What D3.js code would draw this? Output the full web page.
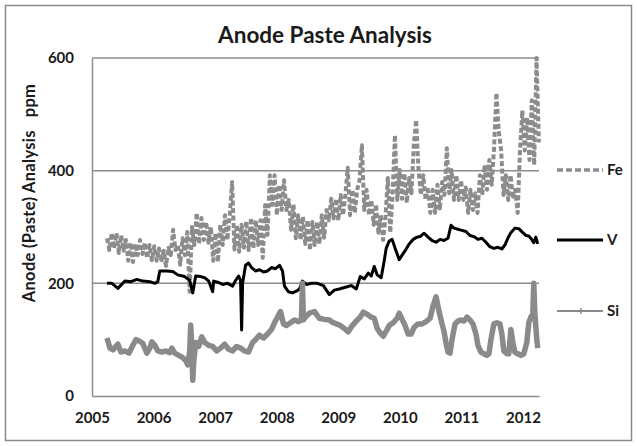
<!DOCTYPE html>
<html>
<head>
<meta charset="utf-8">
<script src="https://cdn.jsdelivr.net/npm/d3@7"></script>
<style>
  html, body { margin: 0; padding: 0; background: #fff; }
  svg { display: block; }
  text { font-family: Lato, "Open Sans", sans-serif; font-weight: 700; fill: #1a1a1a; }
</style>
</head>
<body>
<svg id="chart" width="637" height="446"></svg>
<script>
// Anode paste analysis (ppm). Times are decimal years.
const yearTicks = [2005, 2006, 2007, 2008, 2009, 2010, 2011, 2012];
const ppmTicks = [0, 200, 400, 600];
const seriesNames = ["Fe", "V", "Si"];

// Fe is sampled fortnightly from early April 2005
const feStartYear = 2005.244;
const feStepDays = 14;
const feValues = [
  280,259,289,262,289,254,285,258,277,240,
  272,238,270,250,277,252,272,245,268,241,
  266,240,262,238,258,231,263,250,295,259,
  268,233,280,250,291,185,300,268,325,270,
  316,277,309,272,300,240,289,238,304,268,
  321,277,321,380,260,304,256,304,263,310,
  259,316,262,312,268,312,245,339,286,392,
  339,392,321,375,330,383,330,348,295,340,
  280,321,277,318,270,312,259,309,268,309,
  270,321,281,330,312,350,315,350,312,357,
  321,357,405,321,366,325,366,383,445,330,
  366,321,348,304,340,290,321,277,318,387,
  290,357,463,348,401,350,395,343,387,360,
  445,490,400,357,392,348,366,325,366,325,
  375,330,380,357,440,360,401,348,392,348,
  383,348,370,325,366,330,360,325,392,357,
  410,366,419,375,440,538,470,436,357,392,
  348,392,350,366,325,436,507,436,494,419,
  525,410,600,450
];

const vYears = [
  2005.243,2005.324,2005.421,2005.534,2005.632,2005.729,2005.826,2005.939,2006.020,2006.069,
  2006.101,2006.215,2006.312,2006.393,2006.506,2006.587,2006.636,2006.684,2006.765,2006.830,
  2006.895,2006.960,2006.976,2007.041,2007.122,2007.203,2007.284,2007.332,2007.381,2007.413,
  2007.430,2007.446,2007.494,2007.543,2007.592,2007.656,2007.721,2007.786,2007.851,2007.915,
  2007.980,2008.045,2008.094,2008.126,2008.191,2008.256,2008.320,2008.369,2008.418,2008.482,
  2008.563,2008.660,2008.758,2008.855,2008.936,2009.017,2009.114,2009.211,2009.292,2009.357,
  2009.422,2009.487,2009.535,2009.584,2009.632,2009.697,2009.746,2009.778,2009.827,2009.875,
  2009.924,2009.989,2010.037,2010.086,2010.151,2010.215,2010.280,2010.329,2010.394,2010.458,
  2010.523,2010.588,2010.653,2010.717,2010.782,2010.831,2010.879,2010.944,2011.009,2011.074,
  2011.139,2011.203,2011.268,2011.333,2011.398,2011.462,2011.527,2011.592,2011.657,2011.706,
  2011.754,2011.803,2011.868,2011.932,2011.997,2012.046,2012.094,2012.143,2012.175,2012.208,
  2012.240
];
const vValues = [
  200,200,191,204,203,207,204,203,200,203,
  222,222,221,215,212,205,183,213,212,210,
  204,185,204,202,198,200,195,205,213,205,
  117,200,232,236,228,222,224,220,222,228,
  226,232,222,195,185,183,186,190,204,198,
  200,200,196,180,188,190,193,196,190,212,
  208,218,213,230,215,210,240,262,275,278,
  262,242,250,258,270,278,282,283,289,282,
  276,273,278,276,280,303,298,296,294,292,
  285,283,278,280,273,265,262,264,261,268,
  280,290,298,297,290,285,284,278,272,282,
  270
];

const siYears = [
  2005.243,2005.292,2005.340,2005.389,2005.421,2005.470,2005.534,2005.599,2005.664,2005.713,
  2005.761,2005.826,2005.891,2005.939,2005.972,2006.020,2006.069,2006.134,2006.199,2006.263,
  2006.296,2006.344,2006.409,2006.474,2006.523,2006.555,2006.587,2006.603,2006.620,2006.636,
  2006.652,2006.684,2006.733,2006.782,2006.830,2006.895,2006.960,2007.025,2007.089,2007.154,
  2007.219,2007.284,2007.349,2007.413,2007.478,2007.543,2007.608,2007.656,2007.721,2007.786,
  2007.851,2007.915,2007.964,2008.013,2008.061,2008.110,2008.158,2008.223,2008.288,2008.353,
  2008.401,2008.418,2008.434,2008.466,2008.531,2008.612,2008.693,2008.774,2008.855,2008.903,
  2008.968,2009.033,2009.098,2009.163,2009.227,2009.292,2009.357,2009.406,2009.470,2009.535,
  2009.584,2009.632,2009.681,2009.730,2009.778,2009.827,2009.891,2009.956,2009.989,2010.037,
  2010.086,2010.134,2010.183,2010.232,2010.296,2010.361,2010.426,2010.491,2010.539,2010.588,
  2010.637,2010.685,2010.717,2010.750,2010.782,2010.815,2010.847,2010.896,2010.944,2010.993,
  2011.041,2011.090,2011.139,2011.187,2011.236,2011.268,2011.317,2011.365,2011.414,2011.446,
  2011.479,2011.527,2011.576,2011.625,2011.657,2011.689,2011.738,2011.770,2011.803,2011.835,
  2011.868,2011.916,2011.965,2012.013,2012.062,2012.094,2012.127,2012.159,2012.175,2012.191,
  2012.224,2012.240
];
const siValues = [
  103,85,82,88,92,78,80,76,90,100,
  98,93,76,85,96,90,80,78,80,77,
  85,76,72,68,63,55,80,126,90,28,
  60,95,88,105,95,90,88,80,85,92,
  83,80,88,85,80,78,95,100,108,103,
  110,118,130,140,150,128,125,130,135,132,
  135,200,135,140,147,150,138,136,135,131,
  128,125,120,114,125,133,140,149,145,140,
  138,120,112,106,115,125,130,138,147,136,
  125,110,110,122,128,128,132,138,160,176,
  150,128,115,94,78,76,100,128,133,135,
  133,140,135,128,110,90,78,75,72,75,
  100,128,130,128,110,80,75,75,118,95,
  78,75,72,75,95,130,140,145,200,150,
  100,85
];

const feYears = feValues.map((_, i) => feStartYear + i * feStepDays / 365.25);
const seriesData = {
  Fe: d3.zip(feYears, feValues),
  V: d3.zip(vYears, vValues),
  Si: d3.zip(siYears, siValues)
};

const svg = d3.select("#chart");
const W = 637, H = 446;
const plot = { left: 92, right: 539, top: 58, bottom: 396 };

// outer chart frame
svg.append("rect")
  .attr("x", 5.5).attr("y", 5.5)
  .attr("width", W - 11).attr("height", H - 11)
  .attr("fill", "#fff").attr("stroke", "#8a8a8a").attr("stroke-width", 1.5);

const x = d3.scaleLinear().domain([2005, 2012.26]).range([plot.left, plot.right]);
const y = d3.scaleLinear().domain([0, 600]).range([plot.bottom, plot.top]);

// horizontal gridlines
svg.append("g").selectAll("line")
  .data(ppmTicks.filter(t => t > 0))
  .join("line")
  .attr("x1", plot.left).attr("x2", plot.right)
  .attr("y1", d => y(d)).attr("y2", d => y(d))
  .attr("stroke", "#8c8c8c").attr("stroke-width", 1.5);

// axes
const yAxis = d3.axisLeft(y).tickValues(ppmTicks).tickSize(0).tickPadding(18);
const gy = svg.append("g").attr("transform", `translate(${plot.left},0)`).call(yAxis);
gy.select(".domain").attr("stroke", "#8c8c8c").attr("stroke-width", 1.5);
gy.selectAll("text").style("font-size", "15px");

const xAxis = d3.axisBottom(x).tickValues(yearTicks).tickFormat(d3.format("d")).tickSize(0).tickPadding(16);
const gx = svg.append("g").attr("transform", `translate(0,${plot.bottom})`).call(xAxis);
gx.select(".domain").attr("stroke", "#8c8c8c").attr("stroke-width", 1.5);
gx.selectAll("text").style("font-size", "15px");

// series lines
const line = d3.line().x(d => x(d[0])).y(d => y(d[1]));
const styles = {
  Fe: { stroke: "#8c8c8c", width: 4, dash: "5,2.5" },
  V:  { stroke: "#000000", width: 3, dash: null },
  Si: { stroke: "#8a8a8a", width: 5.5, dash: null }
};
seriesNames.forEach(name => {
  const s = styles[name];
  svg.append("path")
    .datum(seriesData[name])
    .attr("d", line)
    .attr("fill", "none")
    .attr("stroke", s.stroke)
    .attr("stroke-width", s.width)
    .attr("stroke-linejoin", "round")
    .attr("stroke-dasharray", s.dash);
});

// legend to the right of the plot, each entry beside its series
const legendY = { Fe: 170, V: 240, Si: 311 };
seriesNames.forEach(name => {
  const g = svg.append("g").attr("transform", `translate(557,${legendY[name]})`);
  const s = styles[name];
  g.append("line")
    .attr("x1", 0).attr("x2", 46).attr("y1", 0).attr("y2", 0)
    .attr("stroke", s.stroke)
    .attr("stroke-width", name === "Si" ? 2 : (name === "Fe" ? 3.5 : 2.8))
    .attr("stroke-dasharray", name === "Fe" ? "6,3" : null);
  if (name === "Si") {
    g.append("path").attr("d", "M24,-3V3M22,0H26").attr("stroke", s.stroke).attr("stroke-width", 1.5);
  }
  g.append("text").attr("x", 50).attr("y", 0).attr("dy", "0.36em")
    .style("font-size", "15px").text(name);
});

// title
svg.append("text")
  .attr("x", 325).attr("y", 43)
  .attr("text-anchor", "middle")
  .style("font-size", "22.5px")
  .text("Anode Paste Analysis");

// y-axis title
svg.append("text")
  .attr("transform", "translate(35,193) rotate(-90)")
  .attr("text-anchor", "middle")
  .attr("xml:space", "preserve")
  .style("white-space", "pre")
  .style("font-size", "16.5px")
  .style("letter-spacing", "0.3px")
  .text("Anode (Paste) Analysis   ppm");
</script>
</body>
</html>
